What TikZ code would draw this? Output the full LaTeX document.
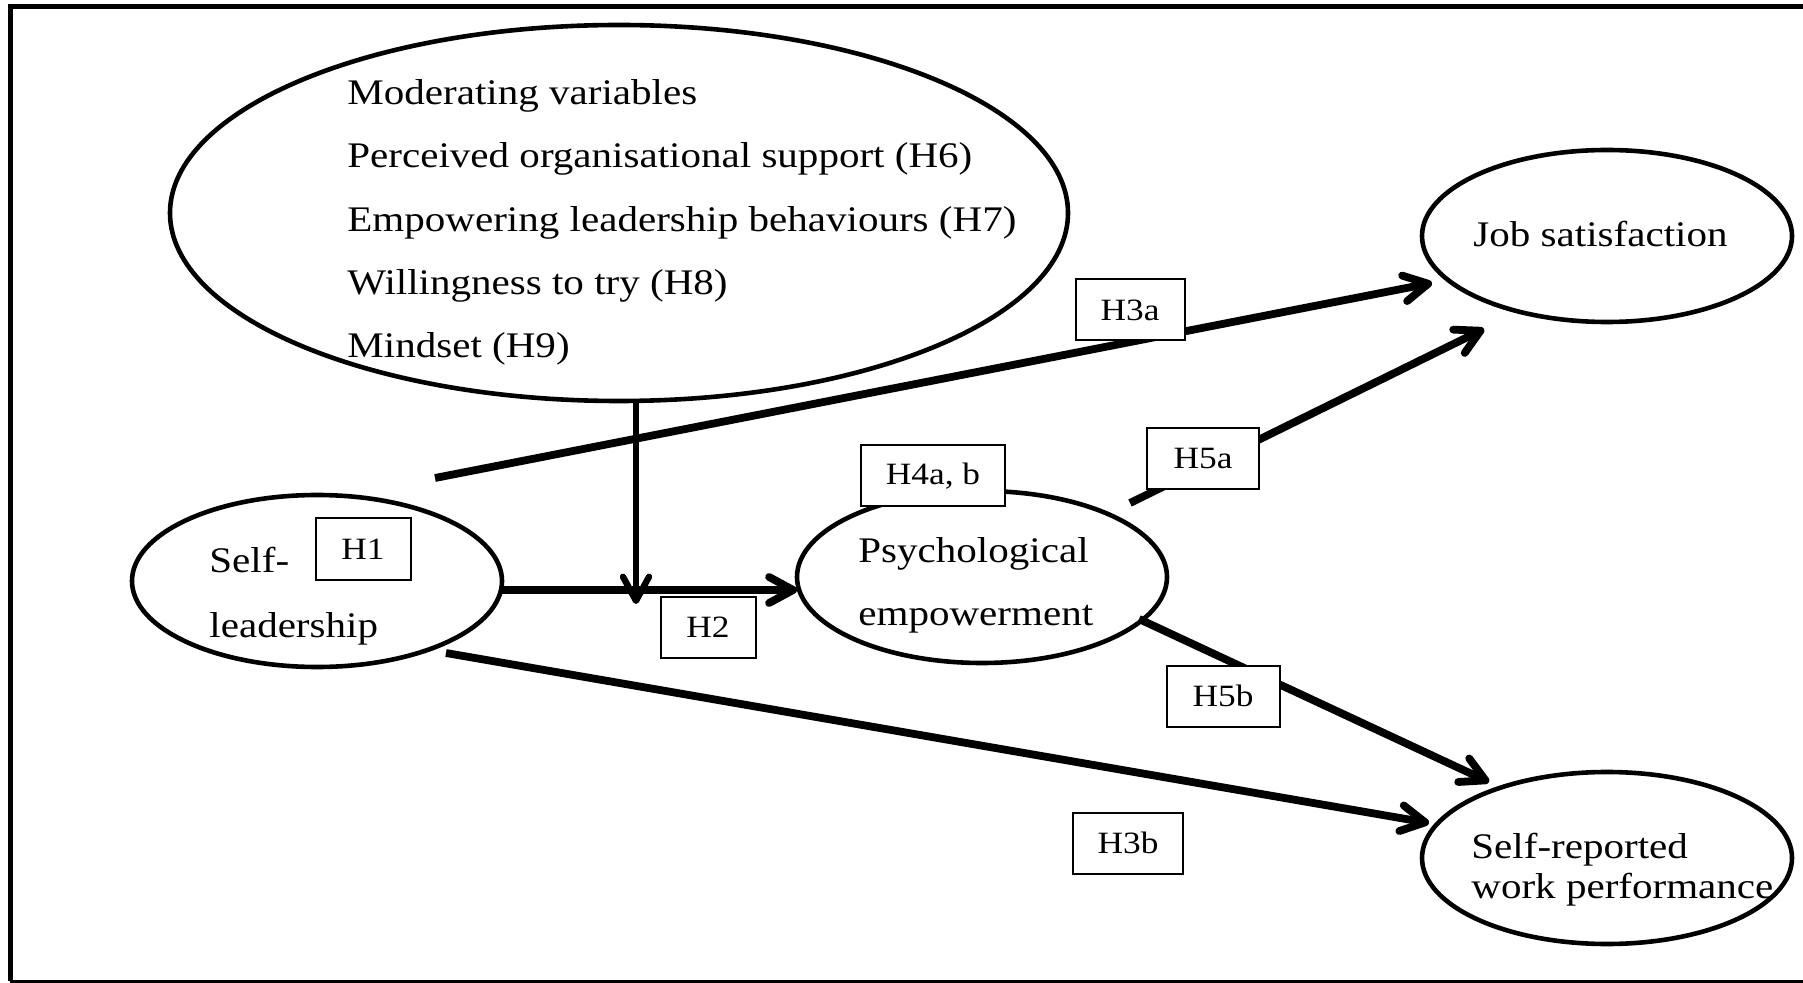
\documentclass[tikz,border=0pt]{standalone}
\usepackage{fontspec}
\setmainfont[FakeStretch=1.14]{Liberation Serif}
\usetikzlibrary{arrows.meta,shapes.geometric}
\begin{document}
\begin{tikzpicture}[x=0.5pt,y=-0.5pt,
  construct/.style={draw, ellipse, line width=2.3pt, inner sep=0pt, outer sep=0pt},
  txt/.style={anchor=base west, inner sep=0pt, font=\fontsize{18}{22}\selectfont},
  hyp/.style={draw, fill=white, line width=1pt, inner sep=0pt, minimum height=30.5pt,
              font=\fontsize{15.5}{18}\selectfont},
  arr/.style={line width=3.9pt, -{Straight Barb[length=12pt,width=13pt,round]}},
  modarr/.style={line width=3.2pt, -{Straight Barb[length=12pt,width=13pt,round]}}
]
\useasboundingbox (0,0) rectangle (1803,983);

% frame: top and left edges heavy, bottom edge lighter
\draw[line width=2.5pt] (1803,6.5) -- (10,6.5) -- (10,981);
\draw[line width=1.5pt] (10,981) -- (1803,981);

% constructs
\node[construct, minimum width=449pt, minimum height=188pt] (mod) at (619,213) {};
\node[construct, minimum width=185pt, minimum height=86pt] (job) at (1607,236) {};
\node[construct, minimum width=185pt, minimum height=86pt] (sl)  at (317,581) {};
\node[construct, minimum width=185pt, minimum height=86pt] (pe)  at (982,577) {};
\node[construct, minimum width=185pt, minimum height=86pt] (perf) at (1607,858) {};

% construct texts
\node[txt] (m0) at (347,105) {Moderating variables};
\node[txt] (m1) at (347,168) {Perceived organisational support (H6)};
\node[txt] (m2) at (347,232) {Empowering leadership behaviours (H7)};
\node[txt] (m3) at (347,295) {Willingness to try (H8)};
\node[txt] (m4) at (347,358) {Mindset (H9)};
\node[txt] (jobt) at (1473,247) {Job satisfaction};
\node[txt] (slt1) at (209,572) {Self-};
\node[txt] (slt2) at (209,637) {leadership};
\node[txt] (pet1) at (858,562) {Psychological};
\node[txt] (pet2) at (858,625) {empowerment};
\node[txt] (perft1) at (1471,858) {Self-reported};
\node[txt] (perft2) at (1471,898) {work performance};

% connector end points
\coordinate (h3a-s) at (435,478);
\coordinate (h3a-t) at (1432,283);
\coordinate (h3b-s) at (446,653);
\coordinate (h3b-t) at (1429,823);
\coordinate (h5a-s) at (1130,503);
\coordinate (h5a-t) at (1484,329);
\coordinate (h5b-s) at (1139,619);
\coordinate (h5b-t) at (1489,782);
\coordinate (mod-t) at (636,604);
\coordinate (h2-s) at ([yshift=-4.5pt]sl.east);

% paths
\draw[arr] (h3a-s) -- (h3a-t);
\draw[arr] (h3b-s) -- (h3b-t);
\draw[arr] (h5a-s) -- (h5a-t);
\draw[arr] (h5b-s) -- (h5b-t);
\draw[arr] (h2-s) -- (h2-s -| pe.west);
\draw[modarr] ([xshift=8.5pt,yshift=1pt]mod.south) -- (mod-t);

% hypothesis labels
\node[hyp, minimum width=54.5pt] (H3a) at (1130,310) {H3a};
\node[hyp, minimum width=47.5pt] (H1)  at (363,549) {H1};
\node[hyp, minimum width=72pt]   (H4)  at (933,476) {H4a, b};
\node[hyp, minimum width=56pt]   (H5a) at (1203,459) {H5a};
\node[hyp, minimum width=47.5pt] (H2)  at (708,627) {H2};
\node[hyp, minimum width=56.5pt] (H5b) at (1223,696) {H5b};
\node[hyp, minimum width=55pt]   (H3b) at (1128,843) {H3b};
\end{tikzpicture}
\end{document}
